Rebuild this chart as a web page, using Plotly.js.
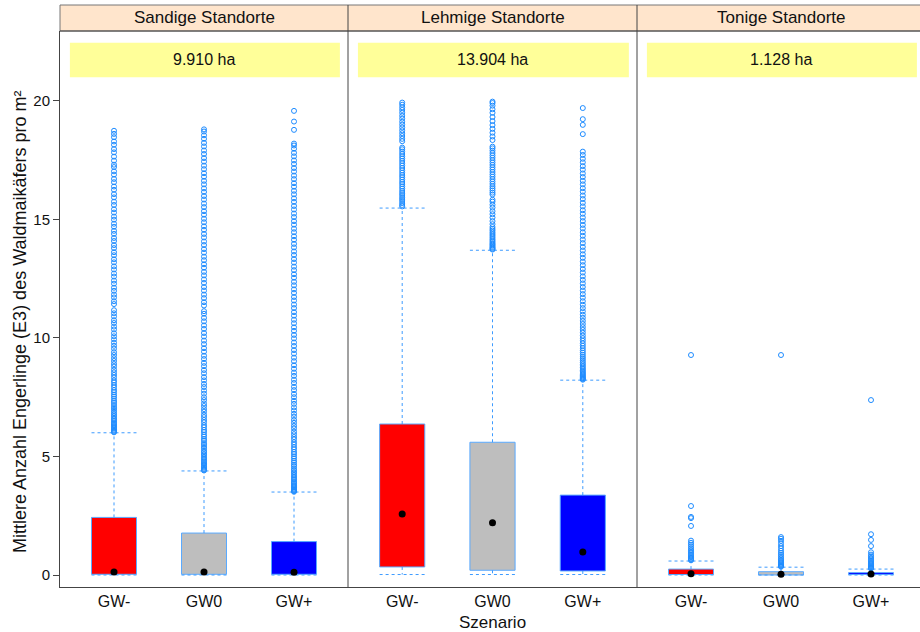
<!DOCTYPE html>
<html>
<head>
<meta charset="utf-8">
<script src="https://cdn.plot.ly/plotly-3.0.1.min.js"></script>
<style>html,body{margin:0;padding:0;background:#fff;overflow:hidden}</style>
</head>
<body>
<div id="chart" style="width:920px;height:632px"></div>
<script>
// ---------- data ----------
const categories = ['GW-', 'GW0', 'GW+'];
const sites = ['Sandige Standorte', 'Lehmige Standorte', 'Tonige Standorte'];
const areas = ['9.910 ha', '13.904 ha', '1.128 ha'];
const boxColors = ['#ff0000', '#bebebe', '#0000ff'];

// Sandige Standorte
const sandLo  = [0.00, 0.00, 0.00];
const sandQ1  = [0.03, 0.03, 0.03];
const sandMed = [0.13, 0.13, 0.12];
const sandQ3  = [2.43, 1.77, 1.41];
const sandUp  = [6.00, 4.39, 3.50];
const sandOutGWm = [6.02,6.05,6.09,6.13,6.18,6.22,6.28,6.33,6.39,6.44,6.51,6.57,6.63,6.71,6.78,6.85,6.93,7.01,7.08,7.17,7.26,7.34,7.44,7.53,7.61,7.71,7.8,7.91,8.01,8.12,8.21,8.33,8.44,8.55,8.66,8.79,8.9,9.03,9.15,9.28,9.4,9.55,9.67,9.8,9.94,10.07,10.2,10.36,10.48,10.63,10.75,10.91,11.04,11.17,11.43,11.55,11.71,11.83,11.99,12.12,12.29,12.42,12.59,12.72,12.89,13.02,13.19,13.32,13.49,13.62,13.79,13.92,14.09,14.22,14.39,14.52,14.69,14.82,14.99,15.12,15.29,15.43,15.61,15.75,15.93,16.07,16.25,16.39,16.57,16.71,16.89,17.03,17.21,17.31,17.48,17.65,17.83,17.97,18.15,18.29,18.47,18.61,18.74];
const sandOutGW0 = [4.41,4.44,4.48,4.53,4.57,4.62,4.68,4.72,4.79,4.84,4.91,4.96,5.04,5.1,5.18,5.24,5.33,5.4,5.49,5.56,5.66,5.74,5.84,5.92,6.03,6.12,6.23,6.32,6.44,6.54,6.66,6.76,6.89,7.0,7.13,7.24,7.38,7.5,7.65,7.78,7.93,8.06,8.21,8.35,8.51,8.65,8.81,8.95,9.11,9.25,9.42,9.57,9.74,9.89,10.06,10.21,10.38,10.53,10.7,10.85,11.02,11.13,11.37,11.51,11.68,11.83,12.0,12.15,12.32,12.47,12.64,12.79,12.96,13.11,13.28,13.43,13.6,13.75,13.92,14.07,14.24,14.39,14.56,14.71,14.88,15.03,15.2,15.35,15.52,15.67,15.84,15.99,16.16,16.31,16.48,16.63,16.8,16.95,17.12,17.27,17.44,17.59,17.76,17.91,18.08,18.23,18.4,18.55,18.71,18.8];
const sandOutGWp = [3.51,3.54,3.57,3.61,3.65,3.7,3.74,3.79,3.85,3.9,3.95,4.02,4.07,4.14,4.2,4.28,4.34,4.42,4.49,4.58,4.65,4.74,4.82,4.92,5.0,5.1,5.19,5.3,5.39,5.5,5.6,5.72,5.82,5.94,6.05,6.18,6.29,6.42,6.54,6.68,6.8,6.94,7.07,7.22,7.35,7.5,7.64,7.8,7.94,8.1,8.24,8.4,8.54,8.7,8.85,9.02,9.17,9.34,9.49,9.66,9.81,9.98,10.13,10.3,10.45,10.62,10.77,10.94,11.09,11.26,11.41,11.58,11.73,11.9,12.05,12.22,12.37,12.54,12.69,12.86,13.01,13.18,13.33,13.5,13.65,13.82,13.97,14.14,14.29,14.46,14.61,14.78,14.93,15.1,15.25,15.42,15.57,15.74,15.89,16.06,16.21,16.38,16.53,16.7,16.85,17.02,17.17,17.34,17.49,17.66,17.81,17.98,18.12,18.2,18.78,19.13,19.58];

// Lehmige Standorte
const lehmLo  = [0.02, 0.02, 0.02];
const lehmQ1  = [0.34, 0.20, 0.17];
const lehmMed = [2.57, 2.20, 0.97];
const lehmQ3  = [6.37, 5.60, 3.37];
const lehmUp  = [15.48, 13.70, 8.22];
const lehmOutGWm = [15.55,15.61,15.69,15.78,15.86,15.94,16.03,16.11,16.2,16.3,16.39,16.49,16.58,16.68,16.78,16.87,16.97,17.07,17.17,17.27,17.37,17.47,17.57,17.66,17.76,17.86,17.96,18.03,18.3,18.4,18.52,18.64,18.76,18.88,19.0,19.12,19.25,19.37,19.5,19.62,19.73,19.84,19.93];
const lehmOutGW0 = [13.73,13.76,13.8,13.84,13.89,13.94,13.99,14.05,14.11,14.17,14.24,14.31,14.38,14.45,14.53,14.6,14.68,14.8,14.93,15.08,15.22,15.35,15.5,15.62,15.75,15.83,16.05,16.13,16.22,16.31,16.4,16.5,16.6,16.7,16.8,16.9,17.0,17.1,17.2,17.3,17.4,17.5,17.6,17.7,17.8,17.9,18.0,18.07,18.35,18.5,18.66,18.82,18.98,19.15,19.32,19.5,19.65,19.8,19.91,19.97];
const lehmOutGWp = [8.24,8.27,8.3,8.34,8.38,8.42,8.47,8.52,8.57,8.63,8.69,8.75,8.82,8.89,8.96,9.04,9.12,9.2,9.29,9.38,9.47,9.57,9.67,9.77,9.88,9.99,10.1,10.22,10.34,10.46,10.59,10.72,10.85,10.98,11.12,11.26,11.4,11.55,11.7,11.85,12.0,12.15,12.3,12.45,12.6,12.76,12.91,13.07,13.22,13.38,13.53,13.69,13.84,14.0,14.15,14.31,14.46,14.62,14.77,14.93,15.08,15.24,15.39,15.55,15.7,15.86,16.01,16.17,16.32,16.48,16.63,16.79,16.94,17.1,17.25,17.41,17.56,17.72,17.86,18.6,18.99,19.23,19.7];

// Tonige Standorte
const tonLo  = [0.00, 0.00, 0.00];
const tonQ1  = [0.02, 0.00, 0.02];
const tonMed = [0.05, 0.03, 0.04];
const tonQ3  = [0.25, 0.14, 0.10];
const tonUp  = [0.59, 0.33, 0.25];
const tonOutGWm = [0.62,0.66,0.7,0.75,0.8,0.86,0.92,0.98,1.05,1.12,1.2,1.28,1.36,1.45,2.07,2.4,2.45,2.91,9.28];
const tonOutGW0 = [0.35,0.38,0.41,0.45,0.49,0.54,0.59,0.64,0.7,0.77,0.85,0.93,1.02,1.12,1.22,1.33,1.44,1.53,1.6,9.28];
const tonOutGWp = [0.27,0.3,0.33,0.37,0.41,0.45,0.5,0.55,0.6,0.66,0.72,0.79,0.86,0.96,1.22,1.48,1.72,7.38];

// ---------- styling constants ----------
const FONT = "'Liberation Sans', Arial, Helvetica, sans-serif";
const WHISK = '#3d9bff';
const BORDER = '#5aaaff';
const OUTC = '#1e8cff';
const HALF = 0.25;          // half box width (category units)
const FRAME = '#444444';

const panels = [
  {lo: sandLo, q1: sandQ1, med: sandMed, q3: sandQ3, up: sandUp, out: [sandOutGWm, sandOutGW0, sandOutGWp]},
  {lo: lehmLo, q1: lehmQ1, med: lehmMed, q3: lehmQ3, up: lehmUp, out: [lehmOutGWm, lehmOutGW0, lehmOutGWp]},
  {lo: tonLo,  q1: tonQ1,  med: tonMed,  q3: tonQ3,  up: tonUp,  out: [tonOutGWm, tonOutGW0, tonOutGWp]}
];
const xpos = categories.map((c, i) => i + 1);

const traces = [];
panels.forEach((p, k) => {
  const xa = k === 0 ? 'x' : 'x' + (k + 1);
  // boxes
  traces.push({
    type: 'bar', xaxis: xa, yaxis: 'y',
    x: xpos, base: p.q1, y: p.q3.map((v, i) => v - p.q1[i]),
    width: 0.5,
    marker: {color: boxColors, line: {color: BORDER, width: 1}},
    hoverinfo: 'skip'
  });
  // whiskers & caps
  const wx = [], wy = [];
  xpos.forEach((x, i) => {
    wx.push(x, x, null, x, x, null, x - HALF, x + HALF, null, x - HALF, x + HALF, null);
    wy.push(p.q3[i], p.up[i], null, p.q1[i], p.lo[i], null, p.up[i], p.up[i], null, p.lo[i], p.lo[i], null);
  });
  traces.push({
    type: 'scatter', mode: 'lines', xaxis: xa, yaxis: 'y',
    x: wx, y: wy, connectgaps: false,
    line: {color: WHISK, width: 1, dash: '3px,3px'}, hoverinfo: 'skip'
  });
  // outliers
  p.out.forEach((arr, i) => {
    traces.push({
      type: 'scatter', mode: 'markers', xaxis: xa, yaxis: 'y',
      x: arr.map(() => xpos[i]), y: arr,
      marker: {symbol: 'circle-open', size: 5, color: OUTC, line: {width: 1, color: OUTC}},
      hoverinfo: 'y'
    });
  });
  // medians
  traces.push({
    type: 'scatter', mode: 'markers', xaxis: xa, yaxis: 'y',
    x: xpos, y: p.med,
    marker: {symbol: 'circle', size: 7, color: '#000'}, hoverinfo: 'y'
  });
});

// ---------- layout ----------
const L = 60, R = 0, T = 31, B = 45, W = 920, H = 632;
const plotW = W - L - R, plotH = H - T - B;
const d1 = 288 / plotW, d2 = 577 / plotW;
const stripTop = 1 + 26 / plotH;

function xaxisDef(domain, range) {
  return {
    domain: domain, range: range, anchor: 'y',
    tickmode: 'array', tickvals: xpos, ticktext: categories,
    ticks: '', showgrid: false, zeroline: false,
    showline: true, linecolor: FRAME, linewidth: 1,
    tickfont: {family: FONT, size: 16, color: '#111'}, fixedrange: true
  };
}

const shapes = [
  // strip background
  {type: 'rect', xref: 'paper', yref: 'paper', x0: 0, x1: 1.01, y0: 1, y1: stripTop,
   fillcolor: '#ffe5cc', line: {color: '#777', width: 1}, layer: 'below'},
  // top frame line of panels
  {type: 'line', xref: 'paper', yref: 'paper', x0: 0, x1: 1, y0: 1, y1: 1, line: {color: FRAME, width: 1}},
  // panel separators
  {type: 'line', xref: 'paper', yref: 'paper', x0: d1, x1: d1, y0: 0, y1: stripTop, line: {color: FRAME, width: 1}},
  {type: 'line', xref: 'paper', yref: 'paper', x0: d2, x1: d2, y0: 0, y1: stripTop, line: {color: FRAME, width: 1}}
];
const annotations = [];
['x', 'x2', 'x3'].forEach((xa, k) => {
  shapes.push({type: 'rect', xref: xa, yref: 'y', x0: 0.51, x1: 3.51, y0: 21.0, y1: 22.45,
               fillcolor: '#ffff99', line: {width: 0}, layer: 'below'});
  annotations.push({xref: xa, yref: 'y', x: 2, y: 21.73, text: areas[k], showarrow: false,
                    font: {family: FONT, size: 16, color: '#111'}, xanchor: 'center', yanchor: 'middle'});
  annotations.push({xref: xa, yref: 'paper', x: 2, y: 1 + 13.5 / plotH, text: sites[k], showarrow: false,
                    font: {family: FONT, size: 17, color: '#111'}, xanchor: 'center', yanchor: 'middle'});
});
annotations.push({xref: 'paper', yref: 'paper', x: (492 - L) / plotW, y: -(622 - (T + plotH)) / plotH,
                  text: 'Szenario', showarrow: false, xanchor: 'center', yanchor: 'middle',
                  font: {family: FONT, size: 17, color: '#111'}});
annotations.push({xref: 'paper', yref: 'paper', x: -(L - 20) / plotW, y: (T + plotH - 322) / plotH,
                  text: 'Mittlere Anzahl Engerlinge (E3) des Waldmaikäfers pro m²', showarrow: false,
                  textangle: -90, xanchor: 'center', yanchor: 'middle',
                  font: {family: FONT, size: 18, color: '#111'}});

const layout = {
  width: W, height: H,
  margin: {l: L, r: R, t: T, b: B, pad: 0},
  paper_bgcolor: '#fff', plot_bgcolor: '#fff',
  showlegend: false, barmode: 'overlay', bargap: 0,
  font: {family: FONT, color: '#111'},
  xaxis: xaxisDef([0, d1], [0.4, 3.6]),
  xaxis2: xaxisDef([d1, d2], [0.4, 3.6]),
  xaxis3: xaxisDef([d2, 1], [0.4, 0.4 + (plotW - 577) / 90]),
  yaxis: {
    range: [-0.506, 22.95], anchor: 'x', tickmode: 'array', tickvals: [0, 5, 10, 15, 20],
    ticks: 'outside', ticklen: 6, tickcolor: FRAME, tickwidth: 1,
    showgrid: false, zeroline: false, showline: true, linecolor: FRAME, linewidth: 1,
    tickfont: {family: FONT, size: 15, color: '#111'}, fixedrange: true
  },
  shapes: shapes, annotations: annotations
};

Plotly.newPlot('chart', traces, layout, {displayModeBar: false, staticPlot: true});
</script>
</body>
</html>
